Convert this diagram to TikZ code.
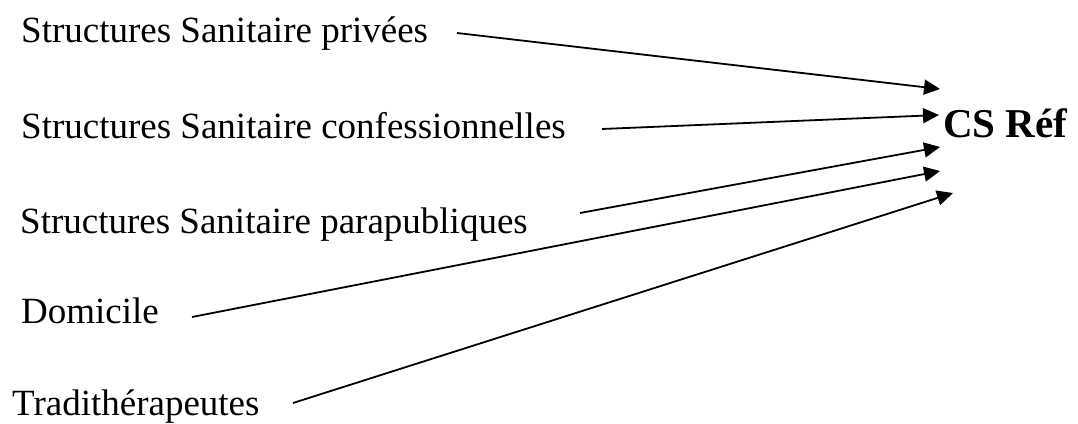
\documentclass[tikz,border=0pt]{standalone}
\usepackage{fontspec}
\setmainfont{Liberation Serif}
\usetikzlibrary{arrows.meta}
\begin{document}
\begin{tikzpicture}[x=1pt,y=-1pt,
  lbl/.style={anchor=base west,inner sep=0pt,font=\fontsize{37}{40}\selectfont},
  hub/.style={anchor=base west,inner sep=0pt,font=\fontsize{41}{44}\selectfont\bfseries},
  conn/.style={line width=1.8pt,-{Triangle[length=16pt,width=15pt]}}]
\useasboundingbox (0,0) rectangle (1078,423);
\node[lbl] (priv) at (21,42) {Structures Sanitaire privées};
\node[lbl] (conf) at (21,138) {Structures Sanitaire confessionnelles};
\node[lbl] (para) at (20,233) {Structures Sanitaire parapubliques};
\node[lbl] (dom) at (21,323) {Domicile};
\node[lbl] (trad) at (12,415) {Tradithérapeutes};
\node[hub] (cs) at (943,137) {CS Réf};
\coordinate (s1) at (457,33);
\coordinate (s2) at (602,129);
\coordinate (s3) at (580,213);
\coordinate (s4) at (192,317);
\coordinate (s5) at (293,403);
\coordinate (e1) at (940,89);
\coordinate (e2) at (939,115);
\coordinate (e3) at (940,147);
\coordinate (e4) at (940,171);
\coordinate (e5) at (953,193);
\draw[conn] (s1) -- (e1);
\draw[conn] (s2) -- (e2);
\draw[conn] (s3) -- (e3);
\draw[conn] (s4) -- (e4);
\draw[conn] (s5) -- (e5);
\end{tikzpicture}
\end{document}
